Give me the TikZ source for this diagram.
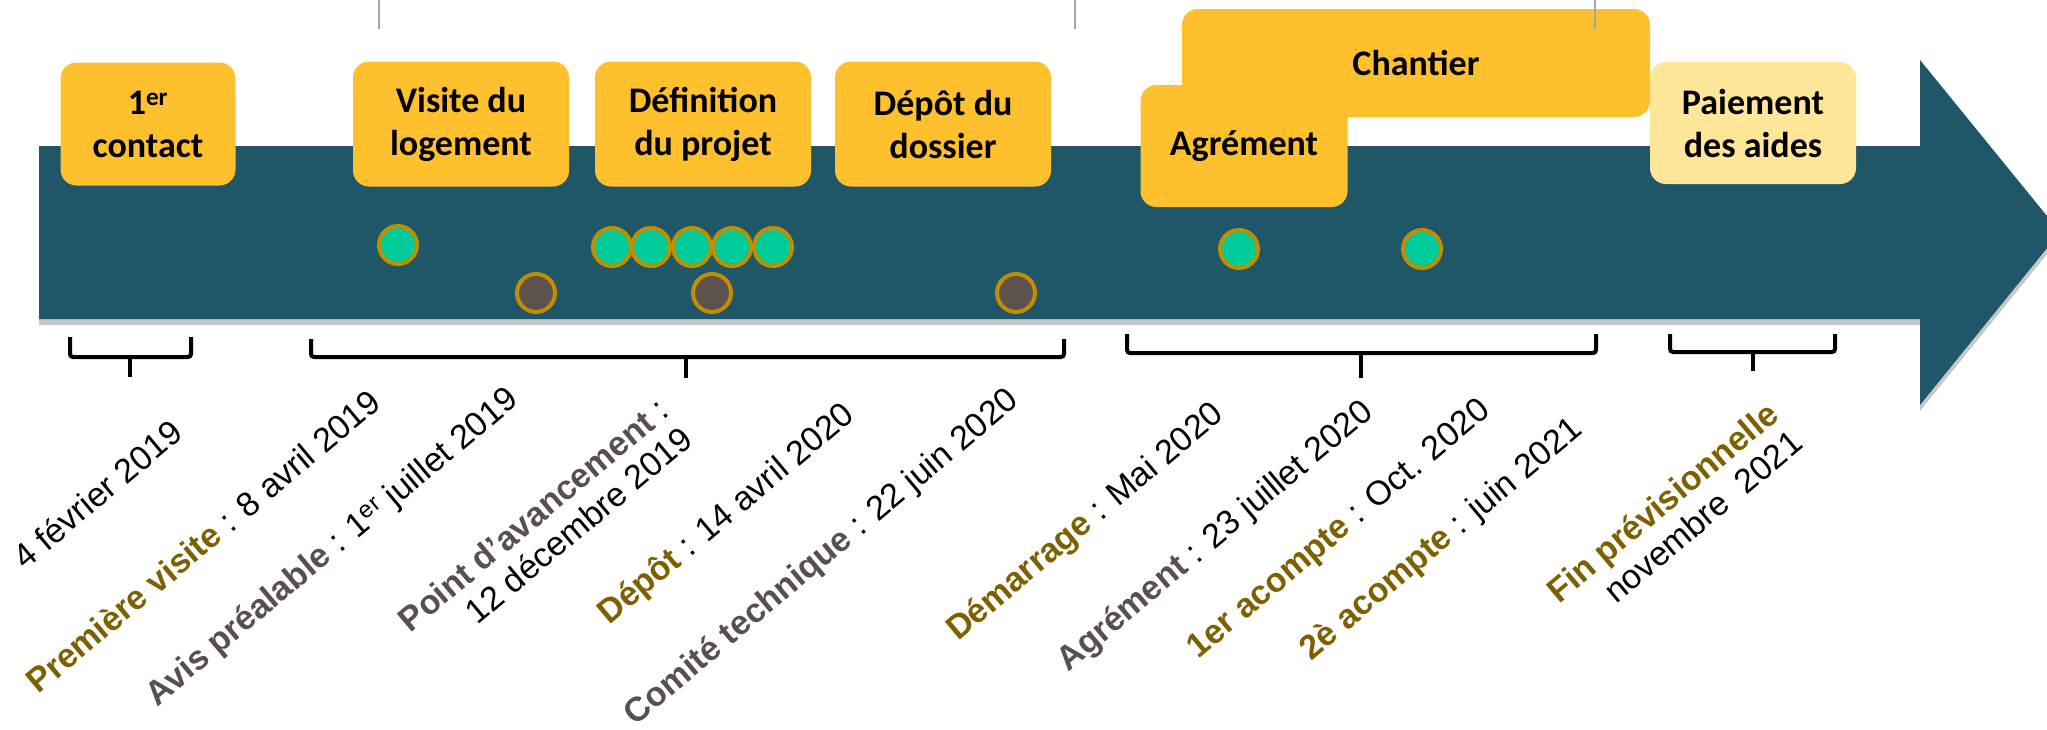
\documentclass[tikz,border=0pt]{standalone}
\usepackage{fontspec}
\setmainfont{Liberation Sans}
\newfontfamily\calfont{Carlito}

\definecolor{band}{RGB}{32,87,104}
\definecolor{boxgold}{RGB}{255,192,45}
\definecolor{boxpale}{RGB}{255,230,153}
\definecolor{dotteal}{RGB}{0,204,153}
\definecolor{dotrim}{RGB}{191,143,0}
\definecolor{dotbrown}{RGB}{94,82,78}
\definecolor{txtgold}{RGB}{127,96,0}
\definecolor{txtgrey}{RGB}{89,79,76}

\newcommand{\kwgold}[1]{\textcolor{txtgold}{\textbf{#1}}}
\newcommand{\kwgrey}[1]{\textcolor{txtgrey}{\textbf{#1}}}

\begin{document}
\begin{tikzpicture}[
            x = 1pt, y = -1pt,
            stage/.style = {fill=boxgold, rounded corners=16pt, inner sep=0pt, align=center,
                            font=\calfont\bfseries\fontsize{36}{43}\selectfont},
            tdot/.style = {circle, fill=dotteal, draw=dotrim, line width=4pt, inner sep=0pt, minimum size=38pt},
            bdot/.style = {circle, fill=dotbrown, draw=dotrim, line width=4pt, inner sep=0pt, minimum size=38pt},
            brk/.style = {draw, line width=4pt, rounded corners=3pt},
            lbl/.style = {rotate=40, inner sep=0pt, align=right, font=\fontsize{34}{37}\selectfont},
        ]
        \useasboundingbox (0,0) rectangle (2047,729);

        % timeline band
        \fill[black!22, shift={(0,6)}] (39,146) -- (1920,146) -- (1920,60) -- (2060,232)
            -- (1920,405) -- (1920,319) -- (39,319) -- cycle;
        \fill[band] (39,146) -- (1920,146) -- (1920,60) -- (2060,232)
            -- (1920,405) -- (1920,319) -- (39,319) -- cycle;

        \node (S1) [stage, minimum width=175pt, minimum height=123pt] at (148,124) {1\textsuperscript{er}\\contact};
        \node (S2) [stage, minimum width=216pt, minimum height=125pt] at (461,124) {Visite du\\logement};
        \node (S3) [stage, minimum width=216pt, minimum height=125pt] at (703,124) {Définition\\du projet};
        \node (S4) [stage, minimum width=216pt, minimum height=125pt] at (943,124) {Dépôt du\\dossier};
        \node (CH) [stage, minimum width=468pt, minimum height=108pt] at (1416,63) {Chantier};
        \node (AG) [stage, minimum width=207pt, minimum height=122pt] at (1244,146) {Agrément};
        \node (PA) [stage, fill=boxpale, minimum width=206pt, minimum height=122pt] at (1753,123) {Paiement\\des aides};

        \draw[black!35, line width=1.5pt] (379,0) -- (379,29);
        \draw[black!35, line width=1.5pt] (1075,0) -- (1075,29);
        \draw[black!35, line width=1.5pt] (1595,0) -- (1595,29);

        \node (T1) [tdot] at (398,245) {};
        \node (T2) [tdot] at (612,247) {};
        \node (T3) [tdot] at (651,247) {};
        \node (T4) [tdot] at (692,247) {};
        \node (T5) [tdot] at (732,247) {};
        \node (T6) [tdot] at (773,247) {};
        \node (T7) [tdot] at (1239,249) {};
        \node (T8) [tdot] at (1422,249) {};
        \node (B1) [bdot] at (536,293) {};
        \node (B2) [bdot] at (712,293) {};
        \node (B3) [bdot] at (1016,293) {};

        % brackets
        \draw[brk] (70,337) -- (70,357) -- (191,357) -- (191,337);
        \draw[brk] (130,357) -- (130,377);
        \draw[brk] (311,339) -- (311,357) -- (1064,357) -- (1064,339);
        \draw[brk] (686,357) -- (686,378);
        \draw[brk] (1127,334) -- (1127,353) -- (1596,353) -- (1596,334);
        \draw[brk] (1361,353) -- (1361,378);
        \draw[brk] (1670,334) -- (1670,352) -- (1835,352) -- (1835,334);
        \draw[brk] (1753,352) -- (1753,371);

        \node (L1) [lbl] at (97,494) {4 février 2019};
        \node (L2) [lbl] at (203,541) {\kwgold{Première visite} : 8 avril 2019};
        \node (L3) [lbl] at (333,548) {\kwgrey{Avis préalable} : 1\textsuperscript{er} juillet 2019};
        \node (L4) [lbl] at (545,529) {\kwgrey{Point d’avancement} :\\12 décembre 2019};
        \node (L5) [lbl] at (727,515) {\kwgold{Dépôt} : 14 avril 2020};
        \node (L6) [lbl] at (822,558) {\kwgrey{Comité technique} : 22 juin 2020};
        \node (L7) [lbl] at (1086,523) {\kwgold{Démarrage} : Mai 2020};
        \node (L8) [lbl] at (1216,537) {\kwgrey{Agrément} : 23 juillet 2020};
        \node (L9) [lbl] at (1340,530) {\kwgold{1er acompte} : Oct. 2020};
        \node (L10) [lbl] at (1442,540) {\kwgold{2è acompte} : juin 2021};
        \node (L11) [lbl] at (1674,516) {\kwgold{Fin prévisionnelle}\\novembre \ 2021};
    \end{tikzpicture}
\end{document}
